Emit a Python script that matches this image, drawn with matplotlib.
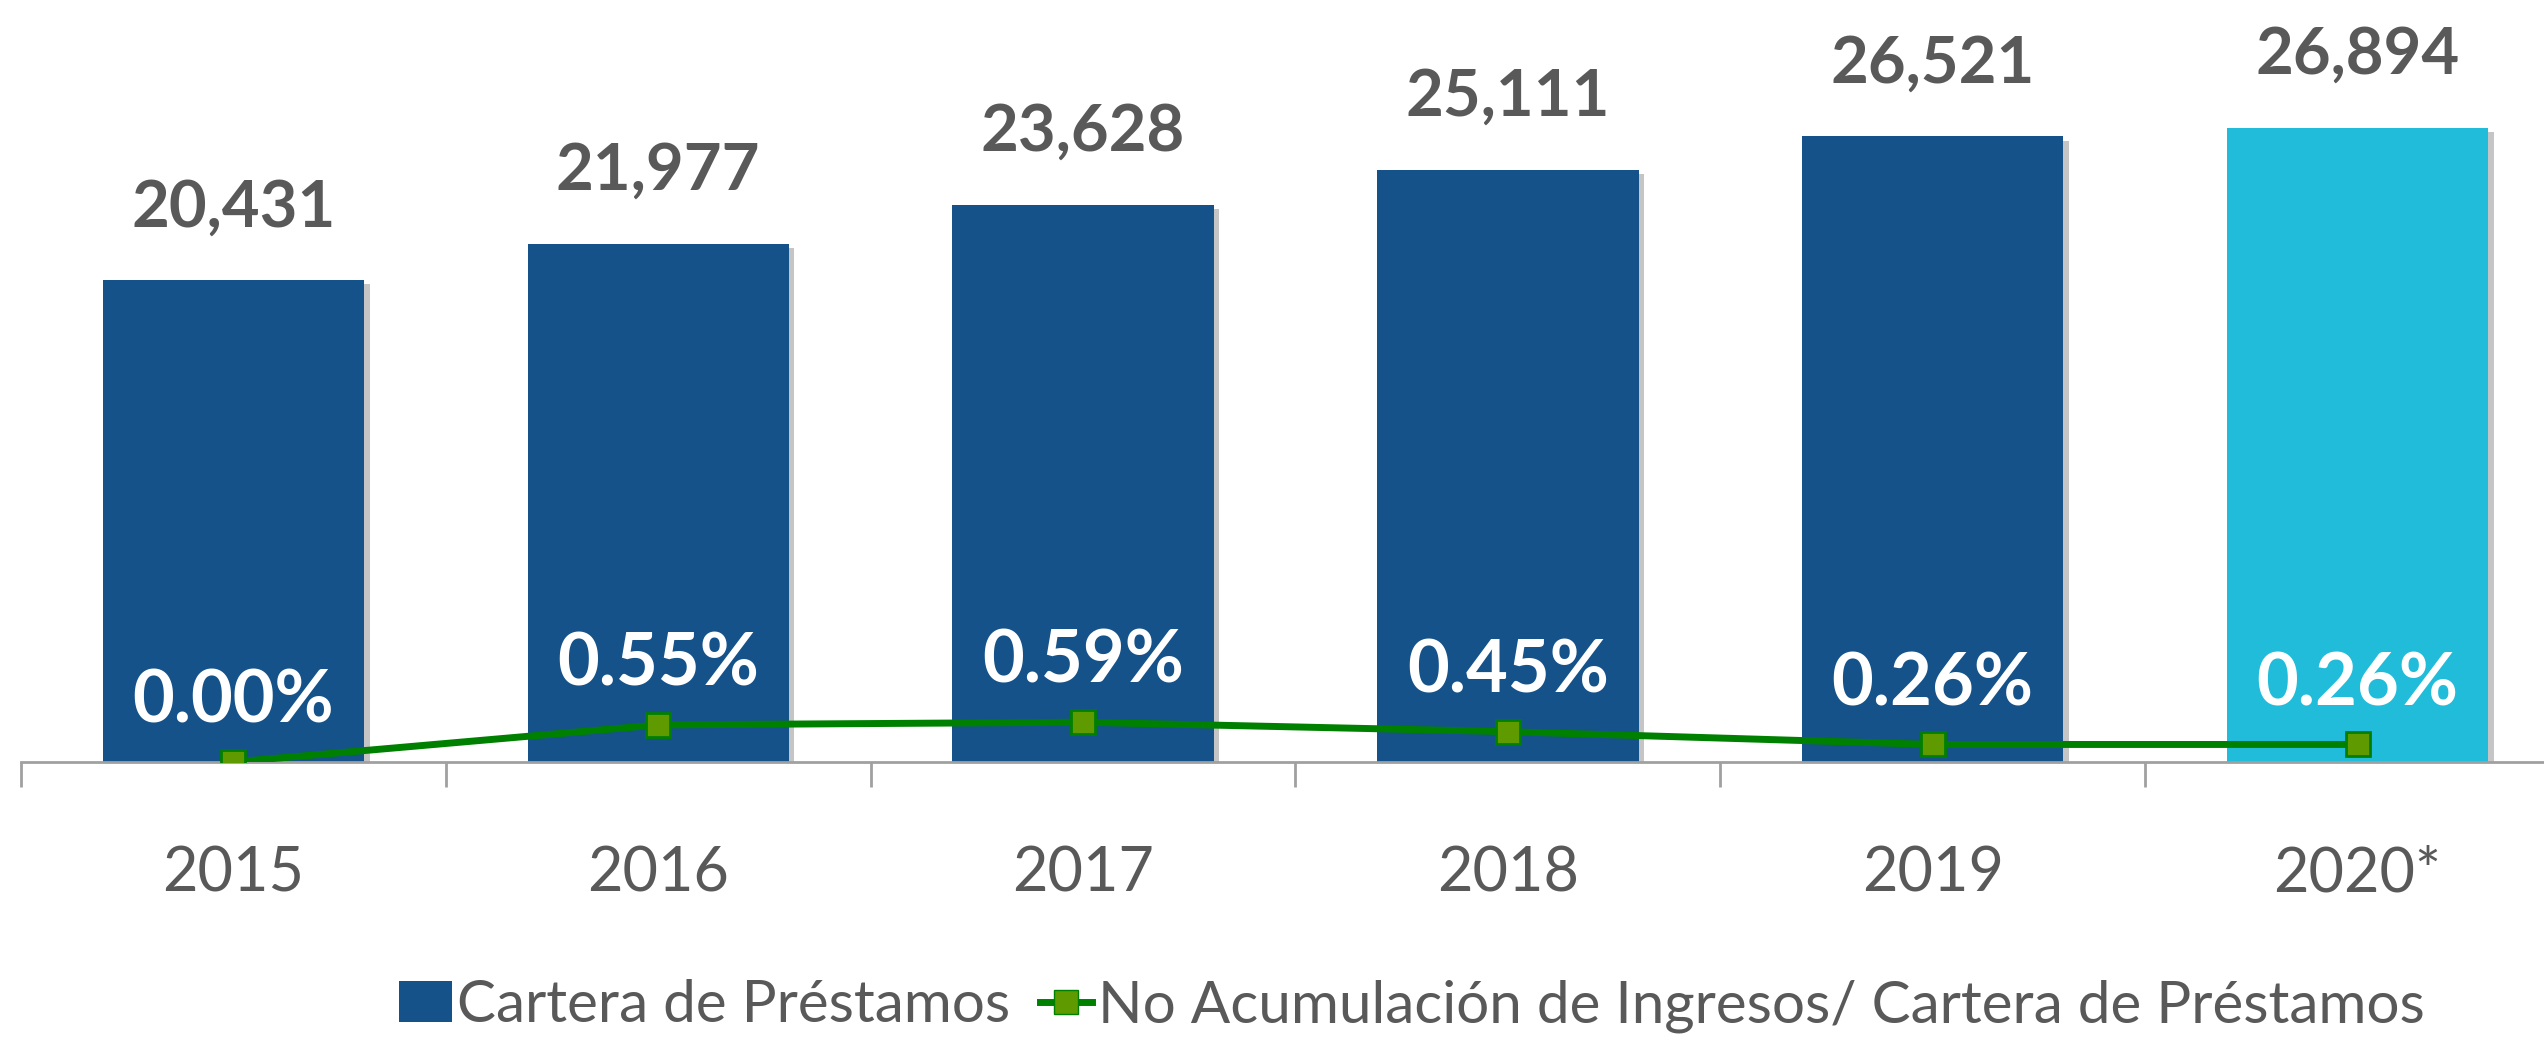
import matplotlib.pyplot as plt
from matplotlib.patches import Patch
from matplotlib.lines import Line2D
import matplotlib.patheffects as pe

years = ["2015", "2016", "2017", "2018", "2019", "2020*"]
cartera = [20431, 21977, 23628, 25111, 26521, 26894]
no_acum = [0.00, 0.55, 0.59, 0.45, 0.26, 0.26]

dark_blue = "#15528A"
cyan = "#21BCDA"
gray_txt = "#595959"
bar_colors = [dark_blue] * 5 + [cyan]

plt.rcParams['font.family'] = ['Lato', 'DejaVu Sans']

fig = plt.figure(figsize=(25.44, 10.39), dpi=100)
ax = fig.add_axes([21 / 2544, 0.2666, 2549 / 2544, 0.7334])

x = list(range(len(years)))
bars = ax.bar(x, cartera, width=0.615, color=bar_colors, zorder=2)
for b in bars:
    b.set_path_effects([pe.withSimplePatchShadow(offset=(4, -3), shadow_rgbFace="#808080", alpha=0.45), pe.Normal()])

for xi, v in zip(x, cartera):
    ax.annotate(f"{v:,}", (xi, v), xytext=(0, 52), textcoords="offset points",
                ha="center", va="center", fontsize=47, fontweight="bold", color=gray_txt,
                annotation_clip=False)

ax.set_xlim(-0.5, 5.5)
ax.set_ylim(0, 32300)
ax.set_yticks([])
for s in ["left", "right", "top"]:
    ax.spines[s].set_visible(False)
ax.spines["bottom"].set_color("#A0A0A0")
ax.spines["bottom"].set_linewidth(2)
ax.set_xticks(x)
ax.set_xticklabels(years, fontsize=44, color=gray_txt)
ax.tick_params(axis="x", which="major", length=0, pad=60)
ax.set_xticks([i - 0.5 for i in range(len(years) + 1)], minor=True)
ax.tick_params(axis="x", which="minor", length=18, width=2, color="#A0A0A0")

ax2 = ax.twinx()
ax2.plot(x, no_acum, color="#008000", lw=5, marker="s", markersize=17,
         markerfacecolor="#5F9A00", markeredgecolor="#008000", markeredgewidth=2, zorder=3)
ax2.set_ylim(0, 11.3)
ax2.set_yticks([])
for s in ax2.spines.values():
    s.set_visible(False)
for xi, v in zip(x, no_acum):
    ax2.annotate(f"{v:.2f}%", (xi, v), xytext=(0, 43), textcoords="offset points",
                 ha="center", va="center", fontsize=52, fontweight="bold", color="white")

handles = [Patch(facecolor=dark_blue),
           Line2D([0], [0], color="#008000", lw=5, marker="s", markersize=17,
                  markerfacecolor="#5F9A00", markeredgecolor="#008000")]
labels = ["Cartera de Préstamos", "No Acumulación de Ingresos/ Cartera de Préstamos"]
fig.legend(handles, labels, loc="center", bbox_to_anchor=(0.555, 0.032), ncol=2,
           frameon=False, fontsize=42, labelcolor=gray_txt, handlelength=0.9,
           handletextpad=0.1, columnspacing=0.5)

fig.savefig("out.png", dpi=100)
